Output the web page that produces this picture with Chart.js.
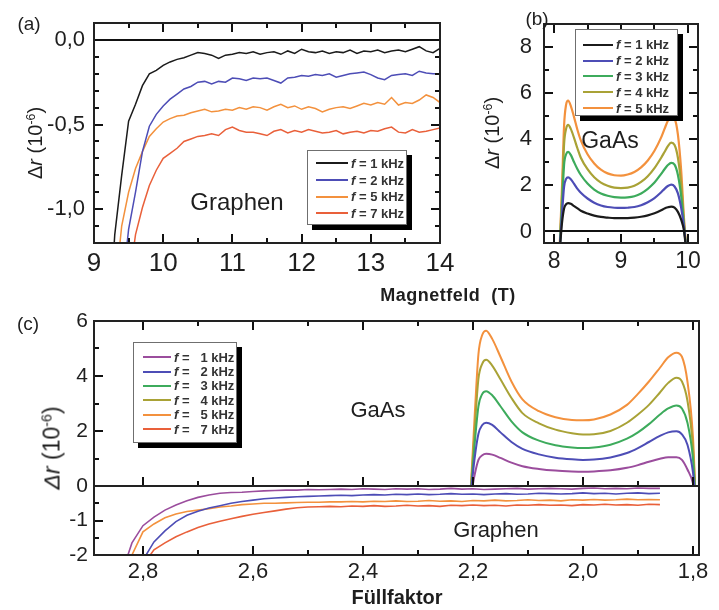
<!DOCTYPE html>
<html>
<head>
<meta charset="utf-8">
<script src="https://cdn.jsdelivr.net/npm/chart.js"></script>
<style>
  body { margin: 0; width: 719px; height: 610px; position: relative; overflow: hidden; background: #fff;
         font-family: Arial, "Liberation Sans", sans-serif; color: #1e1e1e; }
  .pane { position: absolute; }
  canvas { display: block; }
  .txt { position: absolute; white-space: nowrap; line-height: 1; transform: translate(-50%, -50%); }
  .ytitle { position: absolute; white-space: nowrap; line-height: 1; transform: translate(-50%, -50%) rotate(-90deg); }
  .ytitle sup { font-size: 0.62em; vertical-align: baseline; position: relative; top: -0.55em; }
  .legend { position: absolute; background: #fff; border: 1px solid #6f6f6f; box-shadow: 5px 5px 0 #000;
            font-weight: bold; font-size: 13px; color: #333; box-sizing: border-box; }
  .legend .row { display: flex; align-items: center; white-space: pre; }
  .legend .swatch { display: inline-block; height: 2px; margin-right: 3px; }
</style>
</head>
<body>

<div class="pane" style="left:0;top:0"><canvas id="chartA" width="460" height="290"></canvas></div>
<div class="pane" style="left:500px;top:-2px"><canvas id="chartB" width="219" height="292"></canvas></div>
<div class="pane" style="left:0;top:300px"><canvas id="chartC1" width="719" height="206"></canvas></div>
<div class="pane" style="left:0;top:466px"><canvas id="chartC2" width="719" height="144"></canvas></div>

<div class="txt" style="left:29px;top:23px;font-size:19px">(a)</div>
<div class="txt" style="left:537px;top:18px;font-size:19px">(b)</div>
<div class="txt" style="left:28px;top:323px;font-size:19px">(c)</div>
<div class="txt" style="left:448px;top:295px;font-size:18px;font-weight:bold;letter-spacing:0.5px">Magnetfeld&nbsp; (T)</div>
<div class="txt" style="left:397px;top:597px;font-size:20px;font-weight:bold">Füllfaktor</div>
<div class="txt" style="left:237px;top:202px;font-size:24px">Graphen</div>
<div class="txt" style="left:610px;top:140px;font-size:23px">GaAs</div>
<div class="txt" style="left:378px;top:410px;font-size:22px">GaAs</div>
<div class="txt" style="left:496px;top:530px;font-size:22px">Graphen</div>
<div class="ytitle" style="left:35px;top:143px;font-size:20px">Δ<i>r</i> (10<sup>-6</sup>)</div>
<div class="ytitle" style="left:492px;top:133px;font-size:20px">Δ<i>r</i> (10<sup>-6</sup>)</div>
<div class="ytitle" style="left:52px;top:448px;font-size:23px"><i>Δr</i> (10<sup>-6</sup>)</div>

<div class="legend" id="legA" style="left:307px;top:150px;width:100px;height:75px;padding:4px 0 0 8px"></div>
<div class="legend" id="legB" style="left:575px;top:29px;width:103px;height:87px;padding:7px 0 0 7px"></div>
<div class="legend" id="legC" style="left:133px;top:342px;width:104px;height:101px;padding:7px 0 0 9px"></div>

<script>
"use strict";

// (a) Graphen: Δr (10^-6) gegen Magnetfeld (T)
const fieldA = [9.2, 9.3, 9.4, 9.5, 9.6, 9.7, 9.8, 9.9, 10.0, 10.1, 10.2, 10.3, 10.4, 10.5, 10.6, 10.7,
  10.8, 10.9, 11.0, 11.1, 11.2, 11.3, 11.4, 11.5, 11.6, 11.7, 11.8, 11.9, 12.0, 12.1, 12.2, 12.3, 12.4,
  12.5, 12.6, 12.7, 12.8, 12.9, 13.0, 13.1, 13.2, 13.3, 13.4, 13.5, 13.6, 13.7, 13.8, 13.9, 14.0];
const grA1 = [-1.8, -1.15, -0.8, -0.48, -0.38, -0.27, -0.2, -0.18, -0.15, -0.13, -0.115, -0.105, -0.09,
  -0.075, -0.08, -0.09, -0.11, -0.09, -0.085, -0.075, -0.08, -0.07, -0.085, -0.075, -0.07, -0.085, -0.065,
  -0.08, -0.055, -0.07, -0.075, -0.065, -0.08, -0.07, -0.075, -0.06, -0.08, -0.065, -0.07, -0.06, -0.075,
  -0.065, -0.06, -0.07, -0.055, -0.04, -0.065, -0.075, -0.05];
const grA2 = [-2.5, -2.0, -1.5, -1.12, -0.9, -0.66, -0.51, -0.44, -0.39, -0.35, -0.32, -0.29, -0.275,
  -0.25, -0.245, -0.26, -0.245, -0.25, -0.225, -0.23, -0.24, -0.225, -0.23, -0.225, -0.24, -0.255, -0.225,
  -0.22, -0.21, -0.215, -0.205, -0.21, -0.2, -0.22, -0.21, -0.2, -0.195, -0.19, -0.205, -0.225, -0.235,
  -0.21, -0.205, -0.2, -0.21, -0.185, -0.195, -0.2, -0.2];
const grA5 = [-2.2, -1.5, -1.1, -0.9, -0.76, -0.66, -0.57, -0.525, -0.485, -0.465, -0.45, -0.445, -0.43,
  -0.42, -0.41, -0.425, -0.42, -0.41, -0.415, -0.4, -0.41, -0.395, -0.4, -0.415, -0.395, -0.38, -0.4,
  -0.39, -0.41, -0.395, -0.405, -0.425, -0.41, -0.4, -0.395, -0.405, -0.39, -0.375, -0.385, -0.37, -0.38,
  -0.34, -0.385, -0.37, -0.375, -0.355, -0.325, -0.34, -0.37];
const grA7 = [-2.8, -2.3, -1.8, -1.45, -1.15, -0.99, -0.86, -0.77, -0.7, -0.67, -0.64, -0.6, -0.585,
  -0.57, -0.565, -0.555, -0.565, -0.53, -0.515, -0.535, -0.545, -0.545, -0.555, -0.565, -0.54, -0.53,
  -0.55, -0.535, -0.545, -0.53, -0.54, -0.55, -0.545, -0.535, -0.555, -0.545, -0.54, -0.55, -0.535, -0.54,
  -0.525, -0.515, -0.545, -0.55, -0.53, -0.545, -0.54, -0.53, -0.52];
const xTicksA = [9, 10, 11, 12, 13, 14];
const yTicksA = [-1.0, -0.5, 0.0];

// (b) GaAs: Δr (10^-6) gegen Magnetfeld (T)
const fieldB = [8.08, 8.12, 8.15, 8.18, 8.21, 8.25, 8.3, 8.35, 8.4, 8.5, 8.6, 8.7, 8.8, 8.9, 9.0, 9.1,
  9.2, 9.3, 9.4, 9.5, 9.6, 9.65, 9.7, 9.75, 9.8, 9.85, 9.9, 9.94, 9.98];
const gaB1 = [-1.0, 0.4, 1.0, 1.18, 1.23, 1.2, 1.1, 1.0, 0.9, 0.78, 0.69, 0.63, 0.6, 0.58, 0.58, 0.58,
  0.6, 0.64, 0.7, 0.79, 0.92, 1.0, 1.05, 1.08, 1.03, 0.85, 0.5, 0.05, -1.0];
const gaB2 = [-1.0, 0.8, 1.95, 2.28, 2.35, 2.27, 2.06, 1.85, 1.68, 1.43, 1.25, 1.13, 1.06, 1.03, 1.02,
  1.03, 1.06, 1.14, 1.27, 1.45, 1.7, 1.85, 1.97, 2.03, 1.95, 1.65, 1.0, 0.2, -1.0];
const gaB3 = [-1.0, 1.2, 2.9, 3.35, 3.45, 3.32, 3.0, 2.7, 2.45, 2.08, 1.82, 1.65, 1.55, 1.49, 1.47, 1.48,
  1.53, 1.65, 1.85, 2.12, 2.5, 2.7, 2.88, 2.98, 2.9, 2.45, 1.5, 0.3, -1.0];
const gaB4 = [-1.0, 1.6, 3.8, 4.45, 4.62, 4.45, 4.05, 3.6, 3.2, 2.7, 2.35, 2.12, 1.98, 1.9, 1.88, 1.9,
  1.98, 2.15, 2.4, 2.75, 3.2, 3.45, 3.7, 3.85, 3.75, 3.2, 2.0, 0.4, -1.0];
const gaB5 = [-1.0, 2.0, 4.6, 5.5, 5.68, 5.45, 4.95, 4.4, 3.95, 3.35, 2.95, 2.68, 2.52, 2.44, 2.42, 2.47,
  2.58, 2.78, 3.08, 3.5, 4.08, 4.45, 4.8, 5.0, 4.9, 4.2, 2.6, 0.6, -1.0];
const xTicksB = [8, 9, 10];
const yTicksB = [0, 2, 4, 6, 8];

// (c) GaAs (oben) und Graphen (unten) gegen Füllfaktor
const fillC = [2.205, 2.197, 2.19, 2.183, 2.176, 2.165, 2.15, 2.13, 2.11, 2.08, 2.05, 2.02, 2.0, 1.98,
  1.95, 1.92, 1.9, 1.88, 1.86, 1.845, 1.83, 1.82, 1.81, 1.8, 1.795];
const gaC1 = [-0.5, 0.4, 0.95, 1.12, 1.17, 1.14, 1.02, 0.85, 0.72, 0.62, 0.56, 0.53, 0.52, 0.53, 0.57,
  0.66, 0.76, 0.88, 0.99, 1.05, 1.05, 0.95, 0.6, 0.1, -0.5];
const gaC2 = [-0.5, 1.0, 1.9, 2.22, 2.3, 2.22, 1.95, 1.6, 1.35, 1.15, 1.03, 0.97, 0.95, 0.96, 1.04, 1.2,
  1.38, 1.6, 1.82, 1.95, 1.99, 1.88, 1.5, 0.5, -0.5];
const gaC3 = [-0.5, 1.5, 2.9, 3.35, 3.45, 3.3, 2.9, 2.35, 1.95, 1.65, 1.48, 1.4, 1.38, 1.4, 1.5, 1.72,
  1.95, 2.25, 2.6, 2.82, 2.93, 2.82, 2.3, 1.0, -0.5];
const gaC4 = [-0.5, 2.0, 3.9, 4.45, 4.59, 4.38, 3.88, 3.2, 2.65, 2.28, 2.05, 1.92, 1.87, 1.88, 2.0, 2.3,
  2.6, 2.95, 3.4, 3.75, 3.94, 3.8, 3.1, 1.4, -0.5];
const gaC5 = [-0.5, 2.5, 4.8, 5.5, 5.65, 5.35, 4.7, 3.8, 3.15, 2.72, 2.5, 2.4, 2.39, 2.42, 2.6, 2.95,
  3.35, 3.8, 4.3, 4.68, 4.85, 4.7, 3.8, 1.8, -0.5];
const fillGr = [2.84, 2.82, 2.80, 2.78, 2.76, 2.74, 2.72, 2.70, 2.68, 2.66, 2.64, 2.62, 2.60, 2.58, 2.56,
  2.54, 2.52, 2.50, 2.48, 2.46, 2.44, 2.42, 2.40, 2.38, 2.36, 2.34, 2.32, 2.30, 2.28, 2.26, 2.24, 2.22,
  2.20, 2.18, 2.16, 2.14, 2.12, 2.10, 2.08, 2.06, 2.04, 2.02, 2.00, 1.98, 1.96, 1.94, 1.92, 1.90, 1.88, 1.86];
const grC1 = [-2.6, -1.65, -1.15, -0.9, -0.7, -0.55, -0.43, -0.33, -0.26, -0.21, -0.19, -0.18, -0.16,
  -0.14, -0.13, -0.12, -0.12, -0.1, -0.11, -0.1, -0.09, -0.1, -0.08, -0.09, -0.1, -0.08, -0.09, -0.08,
  -0.1, -0.09, -0.07, -0.09, -0.08, -0.1, -0.09, -0.08, -0.07, -0.09, -0.08, -0.07, -0.08, -0.09, -0.07,
  -0.06, -0.08, -0.07, -0.08, -0.06, -0.07, -0.07];
const grC2 = [-3.5, -2.8, -2.15, -1.62, -1.3, -1.03, -0.85, -0.73, -0.64, -0.57, -0.5, -0.45, -0.41,
  -0.37, -0.35, -0.33, -0.31, -0.3, -0.29, -0.28, -0.27, -0.28, -0.26, -0.25, -0.26, -0.24, -0.25, -0.23,
  -0.25, -0.24, -0.22, -0.24, -0.23, -0.25, -0.23, -0.22, -0.24, -0.23, -0.21, -0.22, -0.23, -0.22, -0.2,
  -0.22, -0.21, -0.23, -0.21, -0.2, -0.22, -0.21];
const grC5 = [-2.8, -2.0, -1.33, -1.1, -0.92, -0.81, -0.74, -0.7, -0.66, -0.61, -0.58, -0.54, -0.52,
  -0.5, -0.5, -0.49, -0.48, -0.47, -0.47, -0.46, -0.46, -0.45, -0.46, -0.44, -0.45, -0.43, -0.45, -0.44,
  -0.42, -0.44, -0.43, -0.45, -0.42, -0.43, -0.41, -0.43, -0.42, -0.4, -0.42, -0.41, -0.43, -0.4, -0.41,
  -0.39, -0.41, -0.4, -0.38, -0.4, -0.39, -0.4];
const grC7 = [-3.4, -3.0, -2.3, -1.85, -1.65, -1.47, -1.33, -1.2, -1.1, -1.02, -0.95, -0.88, -0.82,
  -0.77, -0.72, -0.67, -0.63, -0.61, -0.6, -0.59, -0.6, -0.58, -0.59, -0.57, -0.59, -0.58, -0.56, -0.58,
  -0.57, -0.59, -0.56, -0.57, -0.55, -0.57, -0.56, -0.58, -0.55, -0.56, -0.54, -0.56, -0.55, -0.57, -0.54,
  -0.55, -0.53, -0.55, -0.54, -0.56, -0.53, -0.54];
const xTicksC = [2.8, 2.6, 2.4, 2.2, 2.0, 1.8];
const yTicksCup = [0, 2, 4, 6];
const yTicksCdown = [-2, -1];

const FREQ = { k1: "1 kHz", k2: "2 kHz", k3: "3 kHz", k4: "4 kHz", k5: "5 kHz", k7: "7 kHz" };
const COL = {
  black: "#1b1b1b", blue: "#4d4db6", green: "#3dab5c", olive: "#a9a236",
  orange: "#f3913d", red: "#e9603a", purple: "#9b4d9d",
};

Chart.defaults.font.family = 'Arial, "Liberation Sans", sans-serif';
Chart.defaults.color = "#1e1e1e";

const comma = v => v.toFixed(1).replace(".", ",");

// Rahmen, Nulllinie und nach innen zeigende Ticks (wie Origin)
function framePlugin(o) {
  const marks = (major, step, lo, hi) => {
    const out = major.map(v => [v, 9]);
    if (step) {
      for (let v = Math.ceil(lo / step - 1e-6) * step; v <= hi + 1e-6; v += step) {
        if (!out.some(m => Math.abs(m[0] - v) < step / 4)) out.push([v, 5]);
      }
    }
    return out;
  };
  return {
    id: "frame",
    afterDatasetsDraw(chart) {
      const { ctx, chartArea: a } = chart;
      const xs = chart.scales.x, ys = chart.scales.y;
      const s = o.sides;
      ctx.save();
      ctx.fillStyle = "#111111";
      if (o.zero) {
        const py = Math.round(ys.getPixelForValue(0));
        ctx.fillRect(a.left, py - 1, a.right - a.left, 2);
      }
      marks(o.xMajor, o.xMinor, xs.min, xs.max).forEach(([v, len]) => {
        const px = Math.round(xs.getPixelForValue(v));
        if (px < a.left + 2 || px > a.right - 2) return;
        if (s.includes("t")) ctx.fillRect(px - 1, a.top, 2, len);
        if (s.includes("b")) ctx.fillRect(px - 1, a.bottom - len, 2, len);
      });
      marks(o.yMajor, o.yMinor, ys.min, ys.max).forEach(([v, len]) => {
        const py = Math.round(ys.getPixelForValue(v));
        if (py < a.top + 2 || py > a.bottom - 2) return;
        if (s.includes("l")) ctx.fillRect(a.left, py - 1, len, 2);
        if (s.includes("r")) ctx.fillRect(a.right - len, py - 1, len, 2);
      });
      ctx.strokeStyle = "#222222";
      ctx.lineWidth = 2;
      ctx.strokeRect(a.left, a.top, a.right - a.left, a.bottom - a.top);
      ctx.restore();
    },
  };
}

function series(xs, ys, color, label, width, smooth) {
  return {
    label, borderColor: color, backgroundColor: color, borderWidth: width,
    pointRadius: 0, fill: false, clip: 0, tension: 0,
    cubicInterpolationMode: smooth ? "monotone" : "default",
    data: xs.map((x, i) => ({ x, y: ys[i] })),
  };
}

function panel(id, datasets, c) {
  return new Chart(document.getElementById(id), {
    type: "line",
    data: { datasets },
    options: {
      responsive: false,
      animation: false,
      events: [],
      layout: { padding: c.padding, autoPadding: false },
      plugins: { legend: { display: false }, tooltip: { enabled: false } },
      scales: {
        x: {
          type: "linear", min: c.xMin, max: c.xMax, reverse: !!c.reverse, display: c.showX !== false,
          grid: { display: false, drawTicks: false }, border: { display: false },
          ticks: { font: { size: c.xFont }, padding: c.xPad, callback: c.xFmt, maxRotation: 0 },
          afterBuildTicks: sc => { sc.ticks = c.xTicks.map(v => ({ value: v })); },
          afterFit: sc => { sc.height = c.xH; },
        },
        y: {
          type: "linear", min: c.yMin, max: c.yMax,
          grid: { display: false, drawTicks: false }, border: { display: false },
          ticks: { font: { size: c.yFont }, padding: c.yPad, callback: c.yFmt },
          afterBuildTicks: sc => { sc.ticks = c.yTicks.map(v => ({ value: v })); },
          afterFit: sc => { sc.width = c.yW; },
        },
      },
    },
    plugins: [framePlugin({
      sides: c.sides, zero: c.zero, xMajor: c.xTicks, xMinor: c.xMinor,
      yMajor: c.yMarks || c.yTicks, yMinor: c.yMinor,
    })],
  });
}

function legend(elId, entries, rowH, lineW, spaced) {
  const box = document.getElementById(elId);
  entries.forEach(([label, color]) => {
    const row = document.createElement("div");
    row.className = "row";
    row.style.height = rowH + "px";
    const sw = document.createElement("span");
    sw.className = "swatch";
    sw.style.width = lineW + "px";
    sw.style.background = color;
    const t = document.createElement("span");
    t.innerHTML = "<i>f</i> =" + (spaced ? "   " : " ") + label;
    row.append(sw, t);
    box.append(row);
  });
}

const entriesA = [[FREQ.k1, COL.black], [FREQ.k2, COL.blue], [FREQ.k5, COL.orange], [FREQ.k7, COL.red]];
panel("chartA", entriesA.map(([l, col], i) => series(fieldA, [grA1, grA2, grA5, grA7][i], col, l, 1.5, false)), {
  padding: { top: 23, right: 20, left: 0, bottom: 0 },
  xMin: 9, xMax: 14, yMin: -1.2, yMax: 0.1,
  xTicks: xTicksA, yTicks: yTicksA, xMinor: 0.5, yMinor: 0.1,
  xFont: 26, yFont: 22, xPad: 5, yPad: 9, xH: 47, yW: 94,
  xFmt: v => String(v), yFmt: comma, sides: "tblr", zero: true,
});
legend("legA", entriesA, 16.7, 32, false);

const entriesB = [[FREQ.k1, COL.black], [FREQ.k2, COL.blue], [FREQ.k3, COL.green], [FREQ.k4, COL.olive], [FREQ.k5, COL.orange]];
panel("chartB", entriesB.map(([l, col], i) => series(fieldB, [gaB1, gaB2, gaB3, gaB4, gaB5][i], col, l, 2.2, true)), {
  padding: { top: 26, right: 21, left: 0, bottom: 0 },
  xMin: 7.85, xMax: 10.15, yMin: -0.5, yMax: 9,
  xTicks: xTicksB, yTicks: yTicksB, xMinor: 0.5, yMinor: 1,
  xFont: 23, yFont: 22, xPad: 5, yPad: 12, xH: 47, yW: 44,
  xFmt: v => String(v), yFmt: v => String(v), sides: "tblr", zero: true,
});
legend("legB", entriesB, 15.8, 30, false);

const gaEntries = [[FREQ.k1, COL.purple], [FREQ.k2, COL.blue], [FREQ.k3, COL.green], [FREQ.k4, COL.olive], [FREQ.k5, COL.orange]];
panel("chartC1", gaEntries.map(([l, col], i) => series(fillC, [gaC1, gaC2, gaC3, gaC4, gaC5][i], col, l, 2, true)), {
  padding: { top: 21, right: 20, left: 0, bottom: 20 },
  xMin: 1.789, xMax: 2.889, reverse: true, showX: false, yMin: 0, yMax: 6,
  xTicks: xTicksC, yTicks: yTicksCup, xMinor: 0.1, yMinor: 1,
  xFont: 22, yFont: 21, xPad: 4, yPad: 6, xH: 0, yW: 94,
  xFmt: comma, yFmt: v => String(v), sides: "tbl", zero: false,
});

const grEntries = [[FREQ.k1, COL.purple], [FREQ.k2, COL.blue], [FREQ.k5, COL.orange], [FREQ.k7, COL.red]];
panel("chartC2", grEntries.map(([l, col], i) => series(fillGr, [grC1, grC2, grC5, grC7][i], col, l, 1.6, false)), {
  padding: { top: 20, right: 20, left: 0, bottom: 0 },
  xMin: 1.789, xMax: 2.889, reverse: true, yMin: -2, yMax: 0,
  xTicks: xTicksC, yTicks: yTicksCdown, yMarks: [-2, -1, 0], xMinor: 0.1, yMinor: 0.5,
  xFont: 22, yFont: 21, xPad: 4, yPad: 6, xH: 55, yW: 94,
  xFmt: comma, yFmt: v => String(v), sides: "bl", zero: false,
});
legend("legC", [...gaEntries, [FREQ.k7, COL.red]], 14.4, 28, true);
</script>
</body>
</html>
